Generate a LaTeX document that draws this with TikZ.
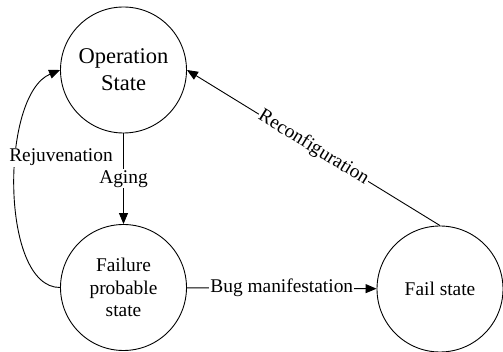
\documentclass[tikz,border=0pt]{standalone}
\usepackage{fontspec}
\setmainfont{Liberation Serif}
\usetikzlibrary{arrows.meta}
\begin{document}
\begin{tikzpicture}[x=1pt,y=-1pt,
  state/.style={draw, circle, minimum size=126pt, inner sep=0pt, line width=0.9pt, align=center, font=\fontsize{19.4}{22.5}\selectfont},
  conn/.style={draw, line width=0.9pt, -{Triangle[length=11pt,width=9pt]}},
  lbl/.style={fill=white, inner sep=1pt, font=\fontsize{19.4}{22.5}\selectfont}]
\useasboundingbox (0,0) rectangle (503,352);
\node[state, font=\fontsize{22.5}{27}\selectfont] (op) at (123.5,70) {Operation\\State};
\node[state] (fp) at (123.5,287.5) {Failure\\probable\\state};
\node[state] (fs) at (440,289) {Fail state};
\draw[conn] (op) -- (fp) node[lbl, midway] {Aging};
\draw[conn] (fp) -- (fs) node[lbl, midway] {Bug manifestation};
\draw[conn] (fs.north) -- (op.east) node[lbl, midway, sloped] {Reconfiguration};
\draw[conn] (fp.west) .. controls (0,288) and (0,95) .. (op.west)
  node[lbl, pos=0.6, anchor=west, xshift=-9pt] {Rejuvenation};
\end{tikzpicture}
\end{document}
